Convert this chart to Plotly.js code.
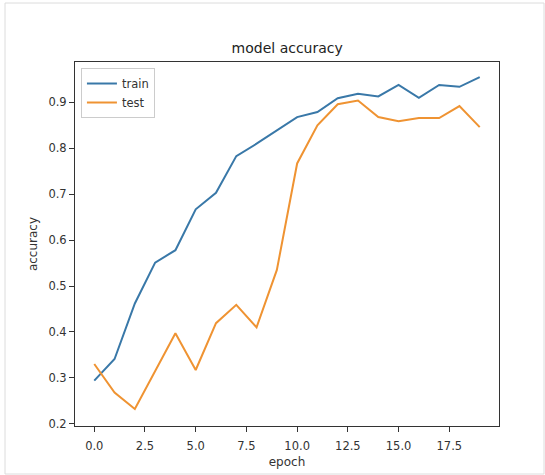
<!DOCTYPE html>
<html>
<head>
<meta charset="utf-8">
<script src="https://cdn.plot.ly/plotly-3.0.1.min.js"></script>
<style>html,body{margin:0;padding:0;background:#fff;}#chart{width:545px;height:475px;}</style>
</head>
<body>
<div id="chart"></div>
<script>
const epochs = [0,1,2,3,4,5,6,7,8,9,10,11,12,13,14,15,16,17,18,19];
const trainAcc = [0.294,0.341,0.462,0.551,0.578,0.667,0.703,0.783,0.810,0.839,0.868,0.879,0.909,0.919,0.913,0.938,0.910,0.938,0.934,0.955];
const testAcc  = [0.330,0.268,0.232,0.314,0.397,0.317,0.419,0.459,0.410,0.535,0.767,0.850,0.896,0.904,0.868,0.859,0.866,0.866,0.892,0.846];
const xTicks = [0,2.5,5,7.5,10,12.5,15,17.5];
const yTicks = [0.2,0.3,0.4,0.5,0.6,0.7,0.8,0.9];

const font = "DejaVu Sans, sans-serif";
const traces = [
  {x: epochs, y: trainAcc, type: 'scatter', mode: 'lines', name: 'train',
   line: {color: '#3978a8', width: 2}},
  {x: epochs, y: testAcc, type: 'scatter', mode: 'lines', name: 'test',
   line: {color: '#ef9332', width: 2}}
];
const axisCommon = {
  showline: true, mirror: true, linecolor: '#333', linewidth: 1,
  ticks: 'outside', ticklen: 5, tickcolor: '#333', tickwidth: 1,
  showgrid: false, zeroline: false, tickformat: '.1f',
  tickfont: {family: font, size: 11.5, color: '#333'}
};
const layout = {
  width: 545, height: 475,
  margin: {l: 75, r: 46, t: 62, b: 49},
  paper_bgcolor: '#fff', plot_bgcolor: '#fff',
  showlegend: true,
  title: {text: 'model accuracy', font: {family: font, size: 14, color: '#222'},
          x: 0.527, xanchor: 'center', y: 1 - 48.5/475, yanchor: 'middle', yref: 'container'},
  xaxis: Object.assign({}, axisCommon, {
    range: [-0.95, 19.95], tickmode: 'array', tickvals: xTicks, ticklabelstandoff: 4,
    title: {text: 'epoch', font: {family: font, size: 12, color: '#333'}, standoff: 5}
  }),
  yaxis: Object.assign({}, axisCommon, {
    range: [0.195, 0.988], tickmode: 'array', tickvals: yTicks,
    title: {text: 'accuracy', font: {family: font, size: 12, color: '#333'}, standoff: 8}
  }),
  legend: {x: 0.014, y: 0.9835, xanchor: 'left', yanchor: 'top',
           bgcolor: '#fff', bordercolor: '#ccc', borderwidth: 1,
           font: {family: font, size: 11.5, color: '#333'}},
  shapes: [
    {type: 'rect', xref: 'paper', yref: 'paper',
     x0: (5-75)/424, x1: (544-75)/424, y0: (426-474)/364, y1: (426-3)/364,
     line: {color: '#dcdcdc', width: 1}, fillcolor: 'rgba(0,0,0,0)', layer: 'below'}
  ]
};
Plotly.newPlot('chart', traces, layout, {displayModeBar: false, staticPlot: true});
</script>
</body>
</html>
